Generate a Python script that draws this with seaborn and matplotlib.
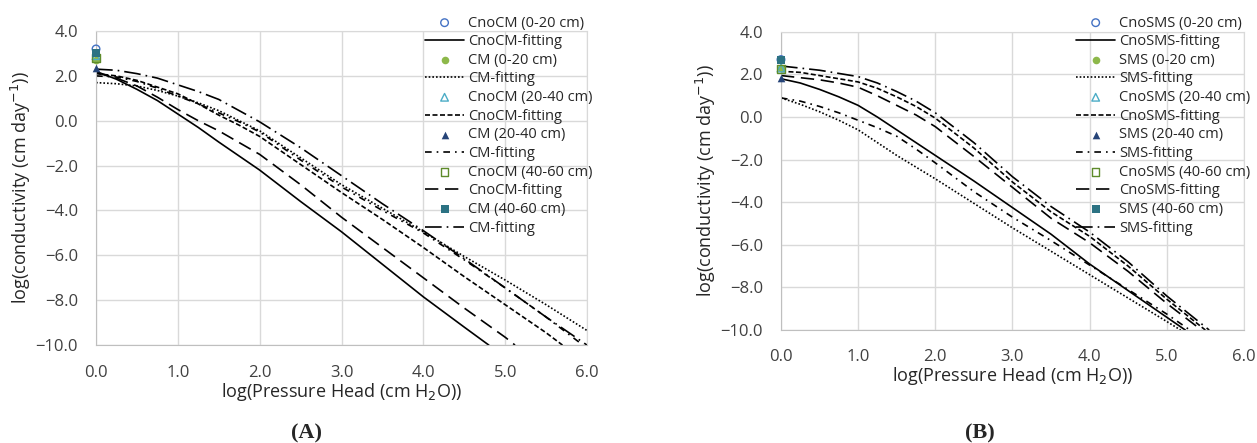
import numpy as np
import matplotlib
matplotlib.use("Agg")
import matplotlib.pyplot as plt
import seaborn as sns

# ---- data ----
# measured points at log(h) = 0
pts_A_labels = ['CnoCM (0-20 cm)', 'CM (0-20 cm)', 'CnoCM (20-40 cm)',
                'CM (20-40 cm)', 'CnoCM (40-60 cm)', 'CM (40-60 cm)']
pts_A_y = [3.2, 2.7, 2.9, 2.35, 2.8, 3.0]
pts_B_labels = ['CnoSMS (0-20 cm)', 'SMS (0-20 cm)', 'CnoSMS (20-40 cm)',
                'SMS (20-40 cm)', 'CnoSMS (40-60 cm)', 'SMS (40-60 cm)']
pts_B_y = [2.7, 2.3, 2.3, 1.85, 2.25, 2.7]

fit_A_labels = ['CnoCM-fitting', 'CM-fitting', 'CnoCM-fitting',
                'CM-fitting', 'CnoCM-fitting', 'CM-fitting']
fit_B_labels = ['CnoSMS-fitting', 'SMS-fitting', 'CnoSMS-fitting',
                'SMS-fitting', 'CnoSMS-fitting', 'SMS-fitting']

# fitted curves, panel A
a1_x = [0, 0.25, 0.5, 0.75, 1, 1.25, 1.5, 2, 2.5, 3, 3.5, 4, 4.5, 4.8]
a1_y = [2.2, 1.85, 1.4, 0.9, 0.3, -0.3, -0.95, -2.2, -3.6, -4.95, -6.4, -7.85, -9.2, -10.0]
a2_x = [0, 0.25, 0.5, 0.75, 1, 1.25, 1.5, 1.75, 2, 2.5, 3, 3.5, 4, 4.5, 5, 5.5, 6]
a2_y = [1.7, 1.65, 1.55, 1.35, 1.1, 0.8, 0.45, 0.0, -0.45, -1.65, -2.85, -3.9, -4.95, -6.05, -7.1, -8.2, -9.35]
a3_x = [0, 0.25, 0.5, 0.75, 1, 1.25, 1.5, 1.75, 2, 2.5, 3, 3.5, 4, 4.5, 5, 5.5, 5.7]
a3_y = [2.1, 2.0, 1.8, 1.5, 1.2, 0.75, 0.25, -0.2, -0.7, -1.95, -3.2, -4.4, -5.65, -6.95, -8.2, -9.45, -10.0]
a4_x = [0, 0.25, 0.5, 0.75, 1, 1.25, 1.5, 1.75, 2, 2.5, 3, 3.5, 4, 4.5, 5, 5.5, 5.95]
a4_y = [2.0, 1.95, 1.75, 1.45, 1.1, 0.75, 0.35, -0.05, -0.5, -1.75, -2.95, -4.0, -5.0, -6.2, -7.45, -8.75, -10.0]
a5_x = [0, 0.25, 0.5, 0.75, 1, 1.25, 1.5, 2, 2.5, 3, 3.5, 4, 4.5, 5, 5.12]
a5_y = [2.15, 1.9, 1.55, 1.05, 0.5, 0.0, -0.45, -1.5, -2.85, -4.3, -5.65, -7.0, -8.35, -9.65, -10.0]
a6_x = [0, 0.25, 0.5, 0.75, 1, 1.25, 1.5, 1.75, 2, 2.5, 3, 3.5, 4, 4.5, 5, 5.5, 6]
a6_y = [2.3, 2.25, 2.1, 1.9, 1.6, 1.3, 0.95, 0.45, -0.05, -1.2, -2.45, -3.7, -4.9, -6.15, -7.45, -8.75, -10.0]

# fitted curves, panel B
b1_x = [0, 0.25, 0.5, 0.75, 1, 1.25, 1.5, 1.75, 2, 2.5, 3, 3.5, 4, 4.5, 5, 5.24]
b1_y = [1.8, 1.6, 1.3, 0.95, 0.55, 0.0, -0.6, -1.2, -1.8, -3.0, -4.25, -5.5, -6.9, -8.15, -9.4, -10.0]
b2_x = [0, 0.25, 0.5, 0.75, 1, 1.25, 1.5, 1.75, 2, 2.5, 3, 3.5, 4, 4.5, 5, 5.18]
b2_y = [0.9, 0.6, 0.25, -0.15, -0.6, -1.2, -1.8, -2.35, -2.9, -4.05, -5.2, -6.3, -7.4, -8.5, -9.6, -10.0]
b3_x = [0, 0.25, 0.5, 0.75, 1, 1.25, 1.5, 1.75, 2, 2.5, 3, 3.5, 4, 4.5, 5, 5.5]
b3_y = [2.15, 2.1, 1.95, 1.8, 1.65, 1.35, 0.95, 0.5, -0.05, -1.45, -3.05, -4.45, -5.6, -7.0, -8.55, -10.0]
b4_x = [0, 0.25, 0.5, 0.75, 1, 1.25, 1.5, 1.75, 2, 2.5, 3, 3.5, 4, 4.5, 5, 5.3]
b4_y = [0.9, 0.75, 0.5, 0.2, -0.15, -0.5, -0.9, -1.5, -2.15, -3.5, -4.7, -5.8, -6.95, -8.1, -9.25, -10.0]
b5_x = [0, 0.25, 0.5, 0.75, 1, 1.25, 1.5, 1.75, 2, 2.5, 3, 3.5, 4, 4.5, 5, 5.45]
b5_y = [1.95, 1.85, 1.75, 1.6, 1.4, 1.0, 0.55, 0.1, -0.45, -1.85, -3.3, -4.75, -5.9, -7.25, -8.75, -10.0]
b6_x = [0, 0.25, 0.5, 0.75, 1, 1.25, 1.5, 1.75, 2, 2.5, 3, 3.5, 4, 4.5, 5, 5.55]
b6_y = [2.4, 2.3, 2.2, 2.05, 1.9, 1.6, 1.2, 0.75, 0.2, -1.2, -2.8, -4.2, -5.4, -6.8, -8.4, -10.0]

curves_A = [(a1_x, a1_y), (a2_x, a2_y), (a3_x, a3_y), (a4_x, a4_y), (a5_x, a5_y), (a6_x, a6_y)]
curves_B = [(b1_x, b1_y), (b2_x, b2_y), (b3_x, b3_y), (b4_x, b4_y), (b5_x, b5_y), (b6_x, b6_y)]

# styles (same order in both panels)
marker_styles = [
    dict(marker='o', color='#4472C4', filled=False),
    dict(marker='o', color='#8DB84A', filled=True),
    dict(marker='^', color='#4BACC6', filled=False),
    dict(marker='^', color='#264478', filled=True),
    dict(marker='s', color='#5E8B2B', filled=False),
    dict(marker='s', color='#2C7283', filled=True),
]
line_styles = ['-', (0, (1, 1.2)), (0, (3, 1.5)), (0, (4, 3, 1, 3)), (0, (8, 4)), (0, (10, 3, 1, 3))]

sns.set_style('white')
plt.rcParams['font.family'] = ['Open Sans', 'DejaVu Sans']

fig = plt.figure(figsize=(12.57, 4.43), dpi=100)
axA = fig.add_axes([0.0764, 0.221, 0.3906, 0.709])
axB = fig.add_axes([0.6213, 0.255, 0.3683, 0.673])

fmt = matplotlib.ticker.FuncFormatter(lambda v, p: f'{v:.1f}'.replace('-', '\u2212'))


def draw_panel(ax, pts_labels, pts_y, fit_labels, curves, leg_x):
    handles = []
    for i in range(6):
        ms = marker_styles[i]
        if ms['filled']:
            sns.scatterplot(x=[0.0], y=[pts_y[i]], ax=ax, marker=ms['marker'],
                            color=ms['color'], s=30, linewidth=0, zorder=5,
                            clip_on=False, label=pts_labels[i], legend=False)
        else:
            sns.scatterplot(x=[0.0], y=[pts_y[i]], ax=ax, marker=ms['marker'],
                            facecolors='none', edgecolor=ms['color'], s=30,
                            linewidth=1.0, zorder=5, clip_on=False,
                            label=pts_labels[i], legend=False)
        handles.append(ax.collections[-1])
        cx, cy = curves[i]
        sns.lineplot(x=cx, y=cy, ax=ax, color='black', linewidth=1.2,
                     linestyle=line_styles[i], label=fit_labels[i],
                     legend=False, sort=False)
        handles.append(ax.lines[-1])

    ax.set_xlim(0, 6)
    ax.set_ylim(-10, 4)
    ax.set_xticks(np.arange(0, 6.1, 1.0))
    ax.set_yticks(np.arange(-10, 4.1, 2.0))
    ax.xaxis.set_major_formatter(fmt)
    ax.yaxis.set_major_formatter(fmt)
    ax.grid(True, color='#d9d9d9', linewidth=1.0)
    ax.set_axisbelow(True)
    for sp in ax.spines.values():
        sp.set_color('#d9d9d9')
    ax.spines['left'].set_color('#bfbfbf')
    ax.spines['bottom'].set_color('#bfbfbf')
    ax.tick_params(axis='both', length=0, labelsize=12, colors='#404040')
    ax.tick_params(axis='x', pad=14)
    ax.tick_params(axis='y', pad=13)
    ax.set_xlabel('log(Pressure Head (cm H$_2$O))', fontsize=13, labelpad=0, color='#262626')
    ax.set_ylabel('log(conductivity (cm day$^{-1}$))', fontsize=13, labelpad=2, color='#262626')

    labels = [h.get_label() for h in handles]
    fig.legend(handles, labels, loc='upper left', bbox_to_anchor=(leg_x, 0.965),
               bbox_transform=fig.transFigure, frameon=False, fontsize=10.5,
               handlelength=2.7, handletextpad=0.25, labelspacing=0.25,
               borderpad=0, borderaxespad=0, markerscale=1.0)


draw_panel(axA, pts_A_labels, pts_A_y, fit_A_labels, curves_A, 0.338)
draw_panel(axB, pts_B_labels, pts_B_y, fit_B_labels, curves_B, 0.856)

fig.text(0.2435, 0.0, '(A)', ha='center', va='bottom', fontsize=16,
         fontweight='bold', family='Liberation Serif')
fig.text(0.7795, 0.0, '(B)', ha='center', va='bottom', fontsize=16,
         fontweight='bold', family='Liberation Serif')

fig.savefig('out.png', dpi=100)
